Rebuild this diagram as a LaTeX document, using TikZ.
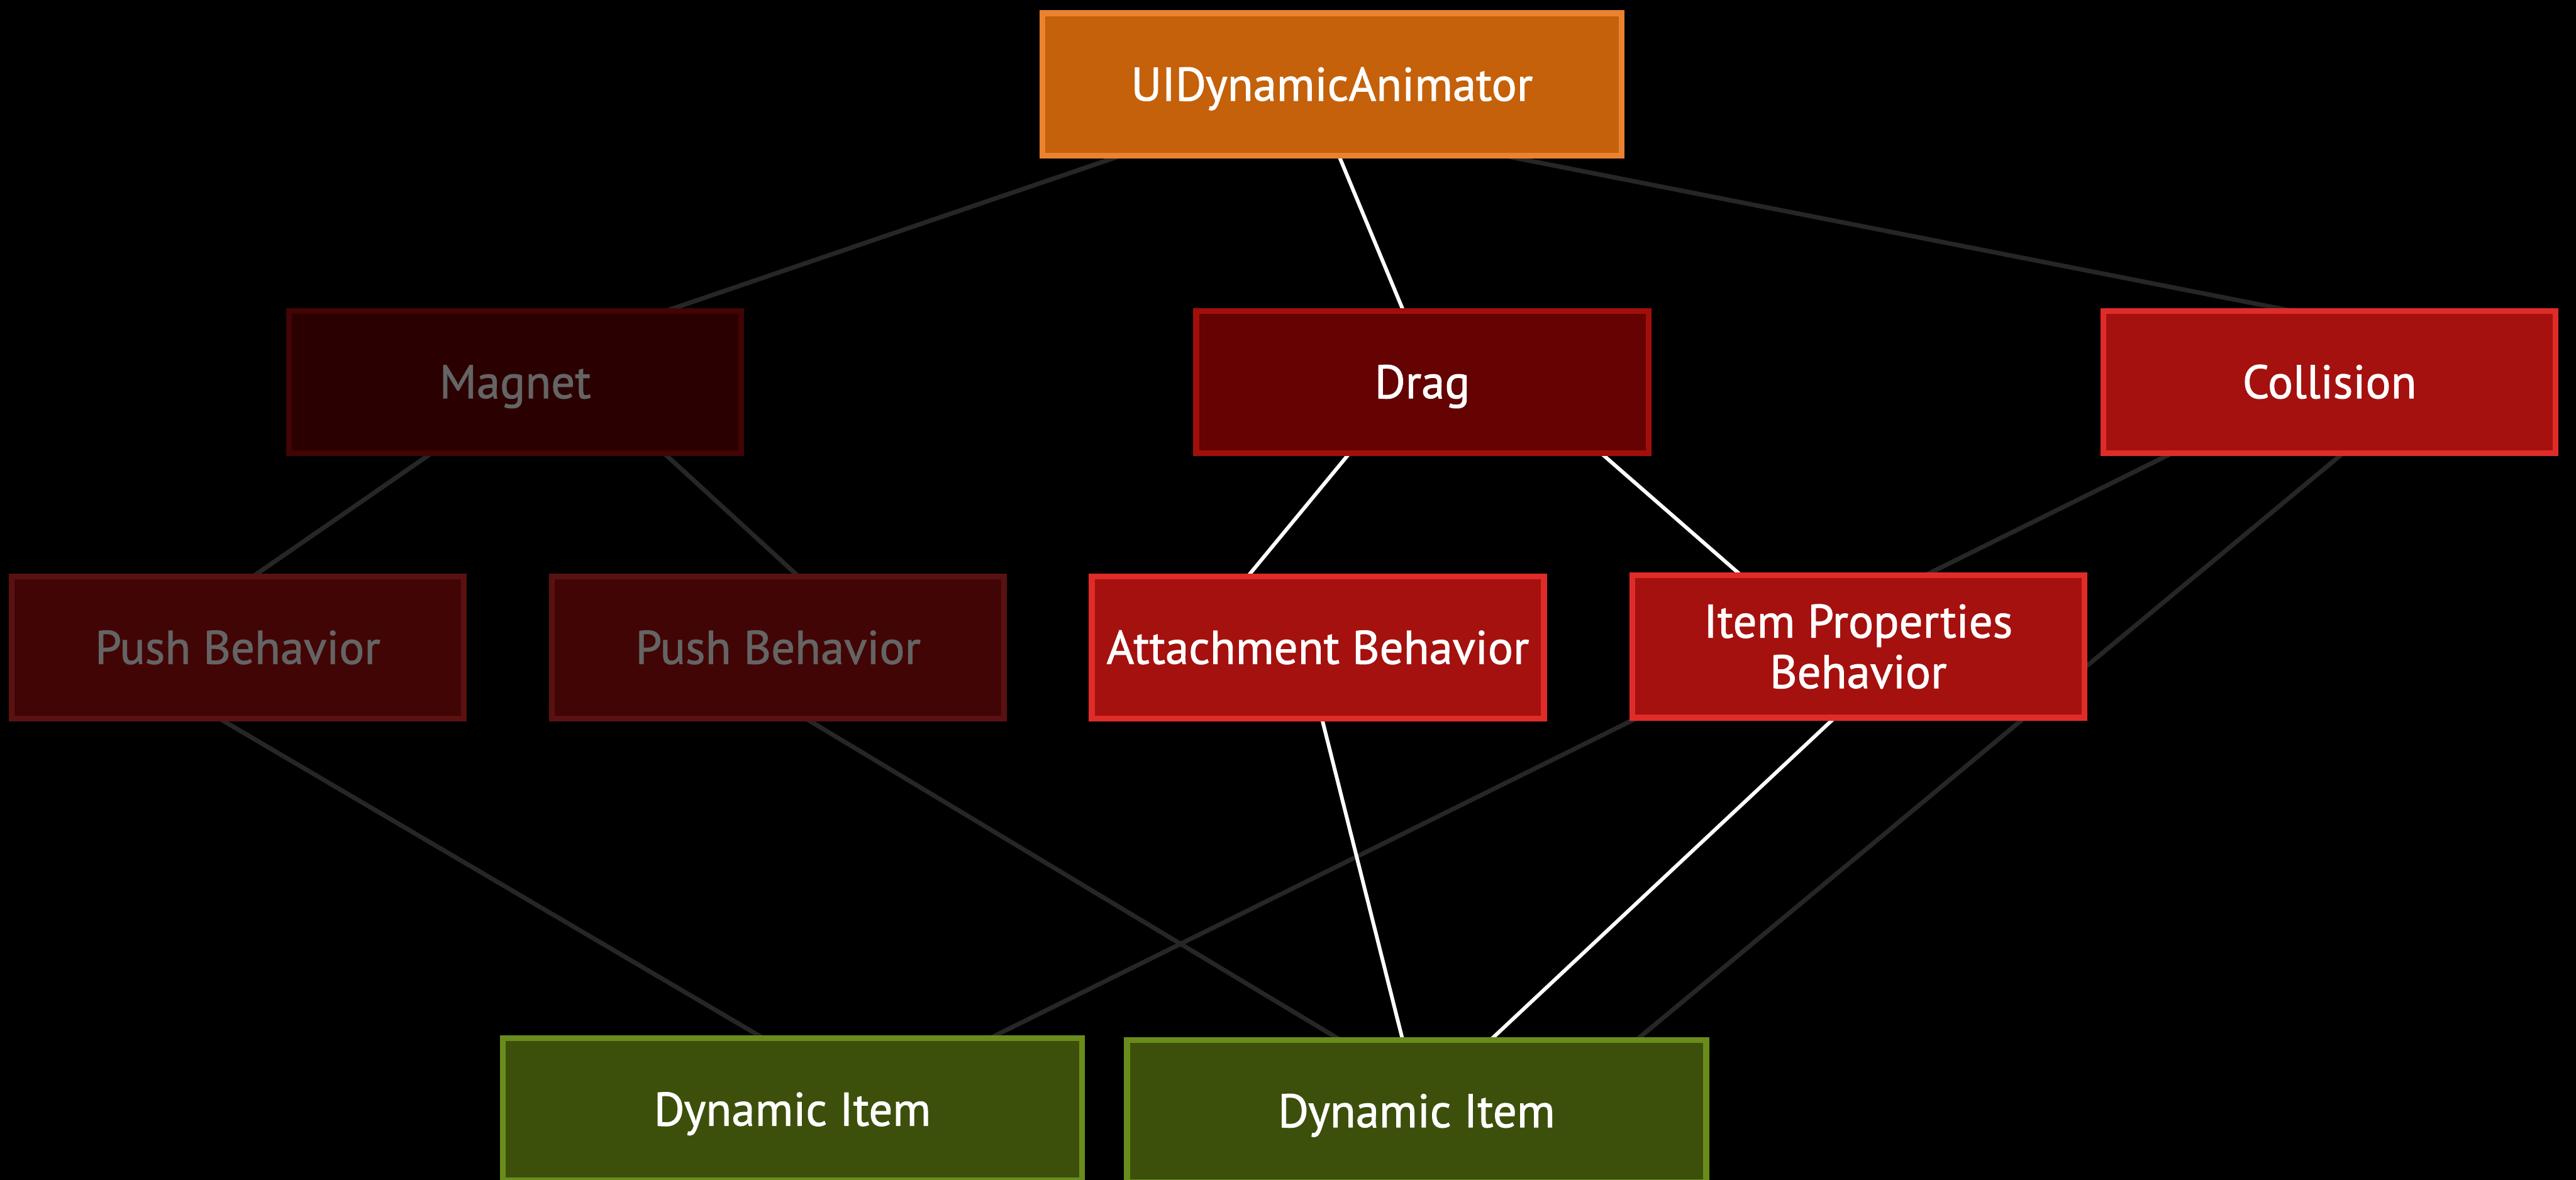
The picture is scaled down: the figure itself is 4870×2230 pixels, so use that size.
\documentclass[tikz,border=0pt]{standalone}
\usepackage{fontspec}
\setmainfont{PT Sans}
\newfontfamily\boxfont{PT Sans}[FakeBold=1.3]
\usetikzlibrary{calc,backgrounds}

\definecolor{animfill}{HTML}{C4610A}
\definecolor{animedge}{HTML}{EA8230}
\definecolor{magfill}{HTML}{2B0000}
\definecolor{magedge}{HTML}{420404}
\definecolor{pushfill}{HTML}{420505}
\definecolor{pushedge}{HTML}{5A1111}
\definecolor{dragfill}{HTML}{650202}
\definecolor{dragedge}{HTML}{A20F0B}
\definecolor{redfill}{HTML}{A5110E}
\definecolor{rededge}{HTML}{E02C29}
\definecolor{itemfill}{HTML}{3C500B}
\definecolor{itemedge}{HTML}{6A8C1C}
\definecolor{dimtext}{HTML}{646464}
\definecolor{linkgray}{HTML}{262626}

\begin{document}
\begin{tikzpicture}[x=0.2pt,y=-0.2pt,
  box/.style={rectangle,draw,line width=2.2pt,inner sep=0pt,outer sep=0pt,
    minimum width=171pt,minimum height=53.8pt,text=white,align=center,
    font=\boxfont\fontsize{17.8}{19.1}\selectfont},
  oneline/.style={text height=12.3pt,text depth=0pt},
  wide/.style={minimum width=219pt},
  animbox/.style={box,wide,oneline,fill=animfill,draw=animedge},
  magbox/.style={box,oneline,fill=magfill,draw=magedge,text=dimtext},
  pushbox/.style={box,oneline,fill=pushfill,draw=pushedge,text=dimtext},
  dragbox/.style={box,oneline,fill=dragfill,draw=dragedge},
  redbox/.style={box,fill=redfill,draw=rededge},
  itembox/.style={box,wide,oneline,fill=itemfill,draw=itemedge},
  dimlink/.style={draw=linkgray,line width=1.7pt},
  hotlink/.style={draw=white,line width=1.4pt}
]
\useasboundingbox (0,0) rectangle (4870,2230);

% boxes
\node[animbox] (anim) at (2518,159.5) {UIDynamicAnimator};

\node[magbox]  (magnet)    at (974,722)  {Magnet};
\node[dragbox] (drag)      at (2689,722) {Drag};
\node[redbox,oneline] (collision) at (4404,722) {Collision};

\node[pushbox] (pushA)  at (449.5,1224) {Push Behavior};
\node[pushbox] (pushB)  at (1471,1224)  {Push Behavior};
\node[redbox,oneline] (attach) at (2491.5,1224) {Attachment Behavior};
\node[redbox]  (props)  at (3513,1222)  {Item Properties\\Behavior};

\node[itembox] (itemA) at (1498,2097) {Dynamic Item};
\node[itembox] (itemB) at (2678,2100) {Dynamic Item};

% connectors, behind the boxes
\begin{scope}[on background layer]
\fill[black] (0,0) rectangle (4870,2230);

\draw[dimlink] ($(anim.south west)!0.136!(anim.south east)$) -- ($(magnet.north west)!0.834!(magnet.north east)$);
\draw[hotlink] ($(anim.south west)!0.512!(anim.south east)$) -- ($(drag.north west)!0.458!(drag.north east)$);
\draw[dimlink] ($(anim.south west)!0.796!(anim.south east)$) -- ($(collision.north west)!0.416!(collision.north east)$);

\draw[dimlink] ($(magnet.south west)!0.315!(magnet.south east)$) -- ($(pushA.north west)!0.534!(pushA.north east)$);
\draw[dimlink] ($(magnet.south west)!0.829!(magnet.south east)$) -- ($(pushB.north west)!0.545!(pushB.north east)$);
\draw[hotlink] ($(drag.south west)!0.339!(drag.south east)$) -- ($(attach.north west)!0.345!(attach.north east)$);
\draw[hotlink] ($(drag.south west)!0.895!(drag.south east)$) -- ($(props.north west)!0.241!(props.north east)$);

\draw[dimlink] ($(collision.south west)!0.152!(collision.south east)$) -- ($(itemA.north west)!0.841!(itemA.north east)$);
\draw[dimlink] ($(collision.south west)!0.530!(collision.south east)$) -- ($(itemB.north west)!0.880!(itemB.north east)$);

\draw[dimlink] ($(pushA.south west)!0.460!(pushA.south east)$) -- ($(itemA.north west)!0.450!(itemA.north east)$);
\draw[dimlink] ($(pushB.south west)!0.562!(pushB.south east)$) -- ($(itemB.north west)!0.368!(itemB.north east)$);
\draw[hotlink] ($(attach.south west)!0.509!(attach.south east)$) -- ($(itemB.north west)!0.476!(itemB.north east)$);
\draw[hotlink] ($(props.south west)!0.448!(props.south east)$) -- ($(itemB.north west)!0.628!(itemB.north east)$);
\end{scope}
\end{tikzpicture}
\end{document}
